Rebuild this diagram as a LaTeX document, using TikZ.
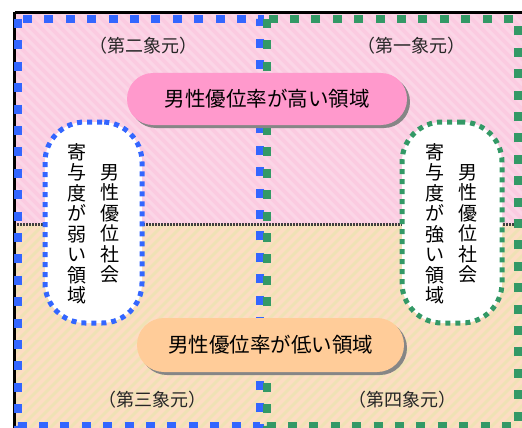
\documentclass[tikz,border=0pt]{standalone}
\usepackage{fontspec}
\setmainfont{Noto Sans CJK JP}
\usetikzlibrary{shadows}
\definecolor{qblue}{HTML}{3366FF}
\definecolor{qgreen}{HTML}{339966}
\definecolor{pinkbg}{HTML}{FBCBE1}
\definecolor{peachbg}{HTML}{FDDDC3}
\definecolor{barpink}{HTML}{FF99CC}
\definecolor{barpeach}{HTML}{FFCC99}
\definecolor{labelgray}{HTML}{262626}
\begin{document}
\begin{tikzpicture}[x=1pt,y=-1pt,
  quadrect/.style={line width=8pt, dash pattern=on 9pt off 12.4pt},
  bar/.style={minimum height=52pt, rounded corners=26pt, inner sep=0pt,
    font=\fontsize{20.5}{24}\selectfont, text=black,
    drop shadow={shadow xshift=3pt, shadow yshift=-3pt, fill=gray!95, opacity=1}},
  pill/.style={fill=white, line width=5pt, dash pattern=on 5pt off 5pt,
    minimum height=201pt, rounded corners=40pt, inner sep=0pt},
  col/.style={align=center, inner sep=0pt, text=black,
    font=\fontsize{19}{20.5}\selectfont},
  qlabel/.style={inner sep=0pt, text=labelgray, font=\fontsize{18}{21}\selectfont}
]
\useasboundingbox (0,0) rectangle (522,428);
\fill[white] (0,0) rectangle (522,428);
% backgrounds
\fill[pinkbg] (14,12) rectangle (522,224);
\fill[peachbg] (14,224) rectangle (522,428);
\begin{scope}
  \clip (14,12) rectangle (522,224);
  \foreach \i in {-300,-290,...,560} \draw[white,opacity=0.22,line width=3pt] (\i,12) -- (\i+212,224);
\end{scope}
\begin{scope}
  \clip (14,224) rectangle (522,428);
  \foreach \i in {-300,-290,...,760} \draw[yellow!60!green!40,opacity=0.35,line width=3pt] (\i,428) -- (\i+204,224);
\end{scope}
% divider
\draw[line width=3.5pt, color=black!75, dash pattern=on 2pt off 1pt] (14,224.5) -- (522,224.5);
% outer frame
\draw[line width=3pt] (14.5,12.5) -- (524,12.5);
\draw[line width=3pt] (14.5,12.5) -- (14.5,430);
% quadrant frames
\draw[quadrect, qblue] (18,19) rectangle (260,426);
\draw[quadrect, qgreen] (267,19) rectangle (518,426);
% quadrant labels
\node[qlabel] (q2) at (143,46) {（第二象元）};
\node[qlabel] (q1) at (411,46) {（第一象元）};
\node[qlabel] (q3) at (152,400) {（第三象元）};
\node[qlabel] (q4) at (402,400) {（第四象元）};
% side pills
\node[pill, draw=qblue, minimum width=97pt] (weak) at (93.5,222.5) {};
\node[col] (weakA) at (110,224) {男\\性\\優\\位\\社\\会};
\node[col] (weakB) at (77,224) {寄\\与\\度\\が\\弱\\い\\領\\域};
\node[pill, draw=qgreen, minimum width=100pt] (strong) at (452,222.5) {};
\node[col] (strongA) at (468,224) {男\\性\\優\\位\\社\\会};
\node[col] (strongB) at (435,224) {寄\\与\\度\\が\\強\\い\\領\\域};
% bars
\node[bar, fill=barpink, minimum width=280pt] (high) at (267,99) {男性優位率が高い領域};
\node[bar, fill=barpeach, minimum width=267pt, minimum height=54pt, rounded corners=27pt] (low) at (270.5,345) {男性優位率が低い領域};
\end{tikzpicture}
\end{document}
